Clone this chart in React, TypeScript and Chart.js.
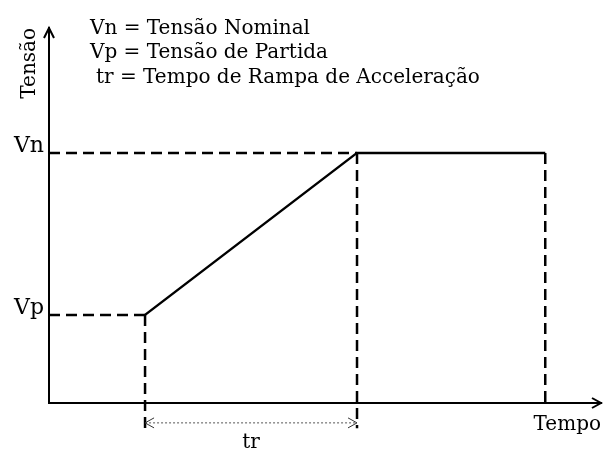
import { useEffect, useRef } from 'react';
import { Chart, registerables } from 'chart.js';

Chart.register(...registerables);

// Time marks (arbitrary units on a 0..10 time axis): start of ramp, end of ramp (tr), stop
const timeMarks = [1.74, 5.58, 8.99];
// Voltage levels (0..10 voltage axis): Vp (starting), Vn (nominal)
const voltageLevels = [2.35, 6.67];
const levelLabels = ['Vp', 'Vn'];
// Level below the time axis where the guide lines end, and where the tr arrow sits
const guideBottom = -0.67;
const rampArrowLevel = -0.53;

const legendLines = ['Vn = Tensão Nominal', 'Vp = Tensão de Partida', 'tr = Tempo de Rampa de Acceleração'];
const yTitle = 'Tensão';
const xTitle = 'Tempo';
const rampLabel = 'tr';

const FONT = 'DejaVu Serif';

export default function App() {
  const ref = useRef<HTMLCanvasElement | null>(null);

  useEffect(() => {
    document.body.style.margin = '0';
    const canvas = ref.current;
    if (!canvas) return;
    const [tS, tE, tStop] = timeMarks;
    const [vp, vn] = voltageLevels;

    const dashed = {
      borderColor: '#000',
      borderWidth: 2.5,
      borderDash: [11, 6],
      pointRadius: 0,
      showLine: true,
      clip: false as const,
    };

    const overlay = {
      id: 'overlay',
      afterDraw(chart: any) {
        const ctx = chart.ctx as CanvasRenderingContext2D;
        const xs = chart.scales.x;
        const ys = chart.scales.y;
        const { left, right, top, bottom } = chart.chartArea;
        ctx.save();
        ctx.strokeStyle = '#000';
        ctx.lineWidth = 2;
        ctx.setLineDash([]);
        // y-axis arrow head
        ctx.beginPath();
        ctx.moveTo(left - 5, top + 10);
        ctx.lineTo(left, top);
        ctx.lineTo(left + 5, top + 10);
        ctx.stroke();
        // x-axis arrow head
        ctx.beginPath();
        ctx.moveTo(right - 9, bottom - 5);
        ctx.lineTo(right, bottom);
        ctx.lineTo(right - 9, bottom + 5);
        ctx.stroke();
        // tr arrow heads
        const ay = ys.getPixelForValue(rampArrowLevel);
        const ax1 = xs.getPixelForValue(timeMarks[0]);
        const ax2 = xs.getPixelForValue(timeMarks[1]);
        ctx.lineWidth = 1;
        ctx.strokeStyle = '#333';
        ctx.beginPath();
        ctx.moveTo(ax1 + 9, ay - 5);
        ctx.lineTo(ax1, ay);
        ctx.lineTo(ax1 + 9, ay + 5);
        ctx.moveTo(ax2 - 9, ay - 5);
        ctx.lineTo(ax2, ay);
        ctx.lineTo(ax2 - 9, ay + 5);
        ctx.stroke();
        // texts
        ctx.fillStyle = '#000';
        ctx.font = `20px "${FONT}"`;
        ctx.textBaseline = 'alphabetic';
        ctx.textAlign = 'left';
        const lx = [90, 90, 96];
        const ly = [34, 58, 83];
        legendLines.forEach((t, i) => ctx.fillText(t, lx[i], ly[i]));
        ctx.textAlign = 'center';
        ctx.fillText(rampLabel, (ax1 + ax2) / 2, 448);
        ctx.restore();
      },
    };

    const chart = new Chart(canvas, {
      type: 'scatter',
      data: {
        datasets: [
          {
            data: [
              { x: tS, y: vp },
              { x: tE, y: vn },
              { x: tStop, y: vn },
            ],
            borderColor: '#000',
            borderWidth: 2.5,
            pointRadius: 0,
            showLine: true,
            clip: false as const,
          },
          { ...dashed, data: [{ x: 0, y: vp }, { x: tS, y: vp }] },
          { ...dashed, data: [{ x: 0, y: vn }, { x: tE, y: vn }] },
          { ...dashed, data: [{ x: tS, y: vp }, { x: tS, y: guideBottom }] },
          { ...dashed, data: [{ x: tE, y: vn }, { x: tE, y: guideBottom }] },
          { ...dashed, data: [{ x: tStop, y: vn }, { x: tStop, y: 0 }] },
          {
            data: [
              { x: tS, y: rampArrowLevel },
              { x: tE, y: rampArrowLevel },
            ],
            borderColor: '#555',
            borderWidth: 1,
            borderDash: [2, 2],
            pointRadius: 0,
            showLine: true,
            clip: false as const,
          },
        ],
      },
      options: {
        responsive: false,
        animation: false,
        layout: { padding: { top: 28, right: 2, left: 0, bottom: 0 } },
        plugins: { legend: { display: false }, tooltip: { enabled: false } },
        scales: {
          x: {
            type: 'linear',
            min: 0,
            max: 10,
            grid: { display: false, drawTicks: false },
            border: { display: true, color: '#000', width: 2 },
            ticks: { display: false },
            title: {
              display: true,
              text: xTitle,
              align: 'end',
              color: '#000',
              font: { family: FONT, size: 20 },
              padding: { top: 0, bottom: 16 },
            },
            afterFit: (s: any) => {
              s.height = 50;
            },
          },
          y: {
            type: 'linear',
            min: 0,
            max: 10,
            grid: { display: false, drawTicks: false },
            border: { display: true, color: '#000', width: 2 },
            afterBuildTicks: (s: any) => {
              s.ticks = voltageLevels.map((v) => ({ value: v }));
            },
            ticks: {
              autoSkip: false,
              color: '#000',
              padding: 5,
              labelOffset: -7,
              font: { family: FONT, size: 22 },
              callback: (_v: any, i: number) => levelLabels[i],
            },
            title: {
              display: true,
              text: yTitle,
              align: 'end',
              color: '#000',
              font: { family: FONT, size: 20 },
              padding: { top: 18, bottom: 0 },
            },
            afterFit: (s: any) => {
              s.width = 49;
            },
          },
        },
      },
      plugins: [overlay],
    });
    return () => chart.destroy();
  }, []);

  return (
    <div style={{ position: 'absolute', left: 0, top: 0, width: 603, height: 453, background: '#fff' }}>
      <canvas ref={ref} width={603} height={453} />
    </div>
  );
}
